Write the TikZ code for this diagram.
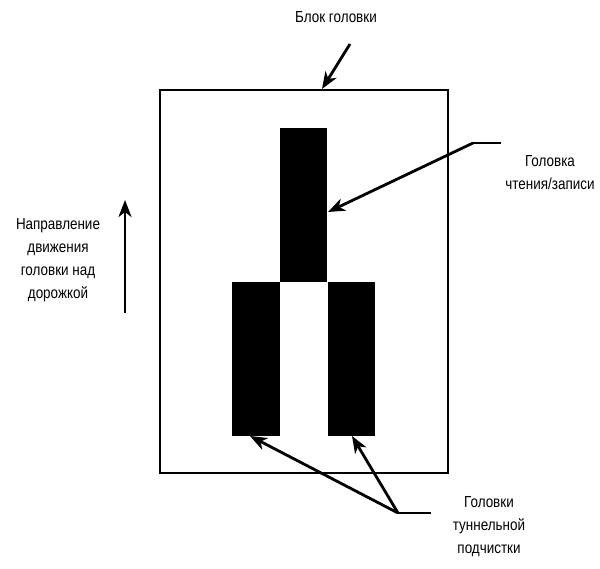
\documentclass[tikz,border=0pt]{standalone}
\usepackage{fontspec}
\setmainfont{Liberation Sans}[FakeStretch=0.84]
\usetikzlibrary{arrows.meta}
\begin{document}
\begin{tikzpicture}[x=1pt,y=-1pt,
  lbl/.style={font=\fontsize{16}{23}\selectfont, align=center, inner sep=0pt},
  blk/.style={fill=black, draw=none, inner sep=0pt, minimum width=0pt},
  arr/.style={line width=2.8pt, -{Stealth[length=17pt,width=13pt,inset=5pt]}},
  lead/.style={line width=2.8pt}]
\useasboundingbox (0,0) rectangle (600,568);
\node[draw, line width=2pt, inner sep=0pt, minimum width=288pt, minimum height=383pt] (box) at (304,281.5) {};
\node[blk, minimum width=47pt, minimum height=154pt] (rw) at (303.5,205) {};
\node[blk, minimum width=48pt, minimum height=154pt] (tl) at (256,359) {};
\node[blk, minimum width=47pt, minimum height=154pt] (tr) at (351.5,359) {};
\node[lbl] (t1) at (336,17) {Блок головки};
\node[lbl] (t2) at (550,173) {Головка\\чтения/записи};
\node[lbl] (t3) at (58,260) {Направление\\движения\\головки над\\дорожкой};
\node[lbl] (t4) at (489,527) {Головки\\туннельной\\подчистки};
\coordinate (a1) at (350,44);
\coordinate (a1t) at (322,89);
\draw[arr] (a1) -- (a1t);
\coordinate (b1) at (501,143);
\coordinate (b2) at (473,143);
\coordinate (b3) at (328,212);
\draw[lead] (b1) -- (b2);
\draw[arr] (b2) -- (b3);
\coordinate (v1) at (125,313);
\coordinate (v2) at (125,200);
\draw[arr] (v1) -- (v2);
\coordinate (c1) at (431,513);
\coordinate (c2) at (398,513);
\coordinate (c3) at (250,436);
\coordinate (c4) at (352,436);
\draw[lead] (c1) -- (c2);
\draw[arr] (c2) -- (c3);
\draw[arr] (c2) -- (c4);
\end{tikzpicture}
\end{document}
